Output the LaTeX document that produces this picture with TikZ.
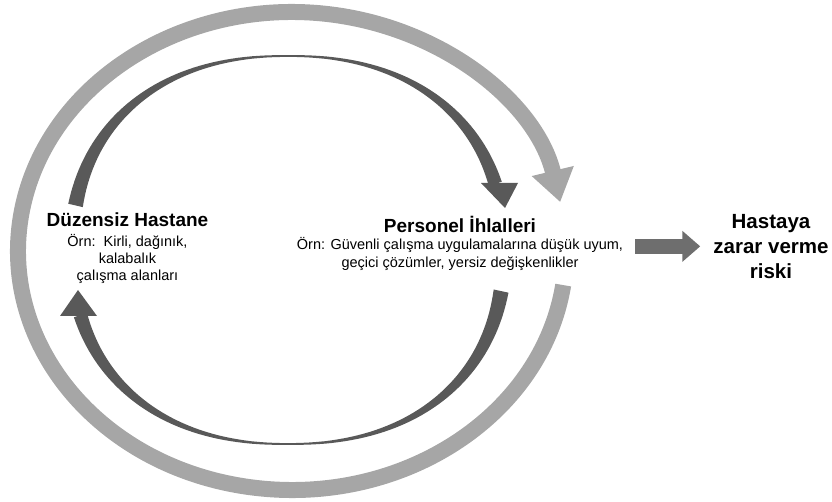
\documentclass[tikz,border=0pt]{standalone}
\usepackage{fontspec}
\setmainfont{Liberation Sans}
\usetikzlibrary{arrows.meta,positioning}
\definecolor{ringgray}{HTML}{A6A6A6}
\definecolor{loopgray}{HTML}{595959}
\definecolor{arrowgray}{HTML}{6E6E6E}

\begin{document}
\begin{tikzpicture}[
  x=1pt,y=-1pt,
  declare function={
    sx(\t)=sign(cos(\t))*(abs(cos(\t))+0.00001)^0.889;
    sy(\t)=sign(sin(\t))*(abs(sin(\t))+0.00001)^0.889;
    hw(\t,\m)=0.9+6.6*(abs(\t-\m)/80+0.0001)^1.3;
  },
  title/.style={font=\bfseries\fontsize{19}{22}\selectfont,align=center,inner sep=0pt},
  note/.style={font=\fontsize{14.5}{16.7}\selectfont,align=center,inner sep=0pt},
  risk/.style={font=\bfseries\fontsize{20.5}{25}\selectfont,align=center,inner sep=0pt},
  outerloop/.style={draw=ringgray,line width=16pt,-{Triangle[width=41pt,length=32pt]}},
  innerloop/.style={fill=loopgray},
  fatarrow/.style={draw=arrowgray,line width=15pt,-{Triangle[width=30pt,length=18pt]}}
]
\useasboundingbox (0,0) rectangle (832,502);

% big light loop around everything
\draw[outerloop] ([shift={(8.2:274 and 239)}]292,251)
  arc[start angle=8.2,end angle=348.2,x radius=274,y radius=239];

% upper dark arc, thin at the top (t=270)
\fill[innerloop] plot[domain=191:342.7,samples=90,variable=\t]
    ({288+(216+hw(\t,270))*sx(\t)},{250+(194+hw(\t,270))*sy(\t)})
  -- plot[domain=342.7:191,samples=90,variable=\t]
    ({288+(216-hw(\t,270))*sx(\t)},{250+(194-hw(\t,270))*sy(\t)})
  -- cycle;
\fill[innerloop] (481,183) -- (518,183) -- (505,208) -- cycle;

% lower dark arc, thin at the bottom (t=90)
\fill[innerloop] plot[domain=10:163,samples=90,variable=\t]
    ({288+(216+hw(\t,90))*sx(\t)},{250+(194+hw(\t,90))*sy(\t)})
  -- plot[domain=163:10,samples=90,variable=\t]
    ({288+(216-hw(\t,90))*sx(\t)},{250+(194-hw(\t,90))*sy(\t)})
  -- cycle;
\fill[innerloop] (60,316) -- (97,316) -- (78,290) -- cycle;

% texts
\node[title,anchor=base] (hosp) at (127.5,227) {Düzensiz Hastane};
\node[note,below=7pt of hosp] (hnote) {Örn:\ \ Kirli, dağınık,\\kalabalık\\çalışma alanları};

\node[title,anchor=base] (viol) at (460,233) {Personel İhlalleri};
\node[note,below=4pt of viol] (vnote) {Örn: Güvenli çalışma uygulamalarına düşük uyum,\\[1pt]
  geçici çözümler, yersiz değişkenlikler};

\node[risk,anchor=north] (harm) at (771,214) {Hastaya\\zarar verme\\riski};

\draw[fatarrow] ([xshift=12pt]vnote.east |- harm.west) -- ([xshift=-13pt]harm.west);
\end{tikzpicture}
\end{document}
